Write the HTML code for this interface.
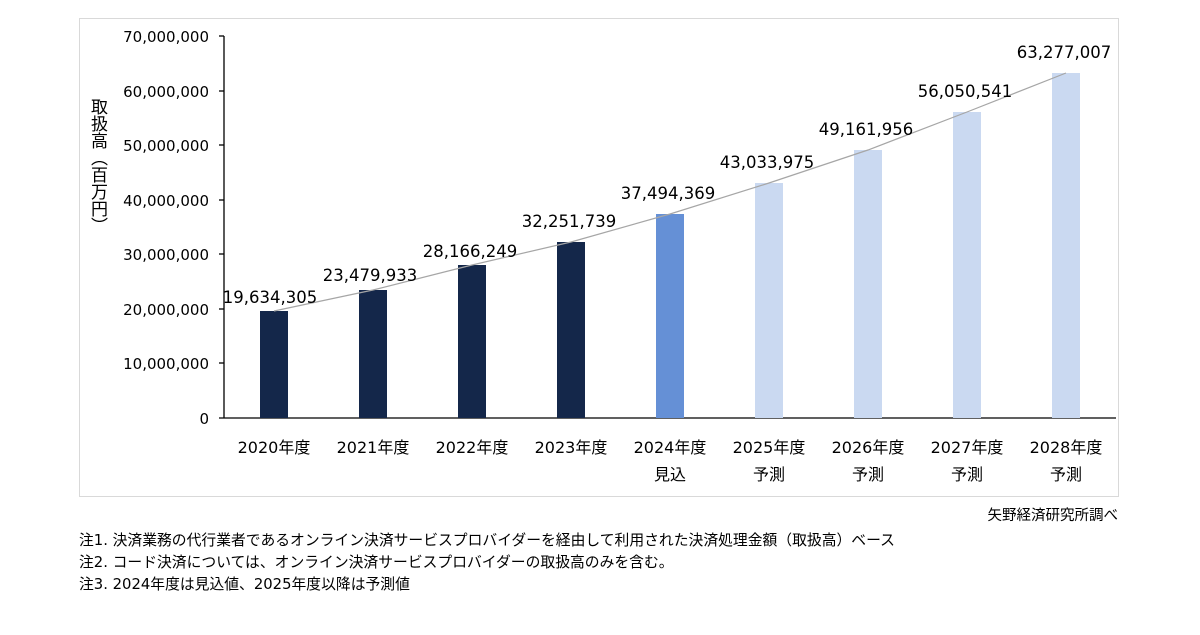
<!DOCTYPE html><html><head><meta charset="utf-8"><style>body{margin:0;background:#fff}</style></head><body>
<svg width="1200" height="630" xmlns="http://www.w3.org/2000/svg" font-family="'DejaVu Sans','Noto Sans CJK JP',sans-serif">
<rect x="79.5" y="18.5" width="1039" height="478" fill="#fff" stroke="#d9d9d9"/>
<g font-size="15" fill="#000" text-anchor="end">
<text x="209" y="42">70,000,000</text><text x="209" y="97">60,000,000</text><text x="209" y="151">50,000,000</text><text x="209" y="206">40,000,000</text><text x="209" y="260">30,000,000</text><text x="209" y="315">20,000,000</text><text x="209" y="369">10,000,000</text><text x="209" y="424">0</text>
</g>
<g stroke="#000" stroke-width="1.3"><line x1="224" y1="36" x2="224" y2="418"/><line x1="219" y1="418" x2="1116" y2="418"/>
<line x1="219" y1="36" x2="224" y2="36"/><line x1="219" y1="91" x2="224" y2="91"/><line x1="219" y1="145" x2="224" y2="145"/><line x1="219" y1="200" x2="224" y2="200"/><line x1="219" y1="254" x2="224" y2="254"/><line x1="219" y1="309" x2="224" y2="309"/><line x1="219" y1="363" x2="224" y2="363"/></g>
<text font-size="17" x="97" y="98" style="writing-mode:vertical-rl">取扱高（百万円）</text>
<g>
<rect x="260" y="311" width="28" height="107" fill="#14274a"/>
<rect x="359" y="290" width="28" height="128" fill="#14274a"/>
<rect x="458" y="265" width="28" height="153" fill="#14274a"/>
<rect x="557" y="242" width="28" height="176" fill="#14274a"/>
<rect x="656" y="214" width="28" height="204" fill="#6590d6"/>
<rect x="755" y="183" width="28" height="235" fill="#cad9f1"/>
<rect x="854" y="150" width="28" height="268" fill="#cad9f1"/>
<rect x="953" y="112" width="28" height="306" fill="#cad9f1"/>
<rect x="1052" y="73" width="28" height="345" fill="#cad9f1"/>
</g>
<polyline points="274,311 373,290 472,265 571,242 670,214 769,183 868,150 967,112 1066,73" fill="none" stroke="#a6a6a6" stroke-width="1.2"/>
<g font-size="16.5" text-anchor="middle" fill="#000">
<text x="270" y="303">19,634,305</text><text x="370" y="281">23,479,933</text><text x="470" y="257">28,166,249</text><text x="569" y="227">32,251,739</text><text x="668" y="199">37,494,369</text><text x="767" y="168">43,033,975</text><text x="866" y="135">49,161,956</text><text x="965" y="97">56,050,541</text><text x="1064" y="58">63,277,007</text>
</g>
<g font-size="16" text-anchor="middle" fill="#000">
<text x="274" y="453">2020年度</text><text x="373" y="453">2021年度</text><text x="472" y="453">2022年度</text><text x="571" y="453">2023年度</text><text x="670" y="453">2024年度</text><text x="769" y="453">2025年度</text><text x="868" y="453">2026年度</text><text x="967" y="453">2027年度</text><text x="1066" y="453">2028年度</text>
<text x="670" y="480">見込</text><text x="769" y="480">予測</text><text x="868" y="480">予測</text><text x="967" y="480">予測</text><text x="1066" y="480">予測</text>
</g>
<text x="1118" y="520" font-size="14.5" text-anchor="end">矢野経済研究所調べ</text>
<g font-size="14.8"><text x="79" y="545">注1.  決済業務の代行業者であるオンライン決済サービスプロバイダーを経由して利用された決済処理金額（取扱高）ベース</text>
<text x="79" y="567">注2.  コード決済については、オンライン決済サービスプロバイダーの取扱高のみを含む。</text>
<text x="79" y="589">注3.  2024年度は見込値、2025年度以降は予測値</text></g>
</svg></body></html>
